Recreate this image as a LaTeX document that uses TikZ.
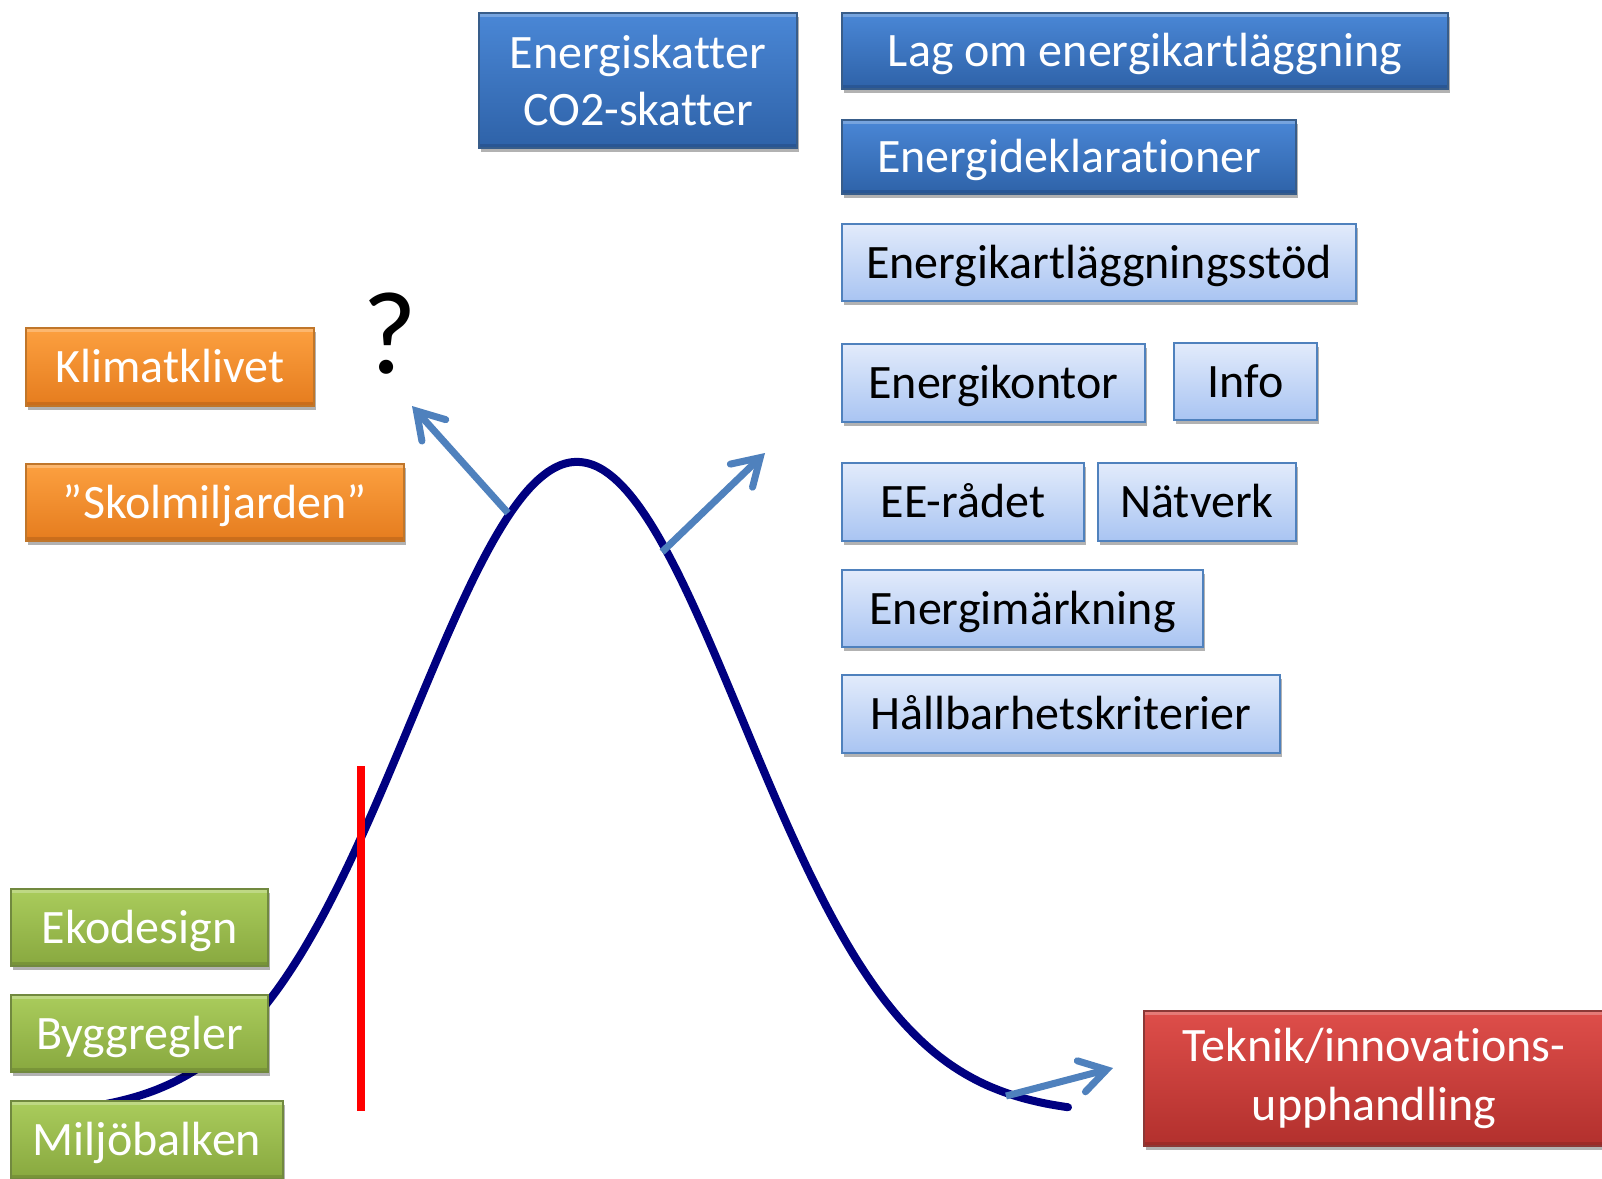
\documentclass[tikz,border=0pt]{standalone}
\usepackage{fontspec}
\setmainfont{Carlito}[Ligatures=NoCommon]
\usetikzlibrary{arrows.meta,shadows}
\definecolor{curvenavy}{HTML}{000080}
\definecolor{arrowblue}{HTML}{4F81BD}
\definecolor{dkTop}{HTML}{4A87D6}
\definecolor{dkBot}{HTML}{2E62A8}
\definecolor{dkEdge}{HTML}{385D8A}
\definecolor{ltTop}{HTML}{E2EBFB}
\definecolor{ltBot}{HTML}{A9C4F2}
\definecolor{ltEdge}{HTML}{4F81BD}
\definecolor{orTop}{HTML}{FCA040}
\definecolor{orBot}{HTML}{E57C1E}
\definecolor{orEdge}{HTML}{C0762A}
\definecolor{grTop}{HTML}{AACC5C}
\definecolor{grBot}{HTML}{88A83F}
\definecolor{grEdge}{HTML}{71893F}
\definecolor{rdTop}{HTML}{DE4E4A}
\definecolor{rdBot}{HTML}{B2302D}
\definecolor{rdEdge}{HTML}{8C3836}
\begin{document}
\begin{tikzpicture}[x=1pt,y=-1pt,
  box/.style={draw, line width=1.5pt, inner sep=0pt, align=center,
    font=\fontsize{48}{57}\selectfont,
    drop shadow={shadow xshift=1.5pt, shadow yshift=-4pt, opacity=0.3, fill=black}},
  oneline/.style={text height=31pt, text depth=0pt},
  bevel/.style={path picture={
    \fill[white, opacity=0.25] (path picture bounding box.north west) rectangle
      ([yshift=-4pt]path picture bounding box.north east);
    \fill[black, opacity=0.12] (path picture bounding box.south west) rectangle
      ([yshift=4pt]path picture bounding box.south east);}},
  darkbox/.style={box, bevel, top color=dkTop, bottom color=dkBot, draw=dkEdge, text=white},
  lightbox/.style={box, oneline, top color=ltTop, bottom color=ltBot, draw=ltEdge, text=black},
  orangebox/.style={box, oneline, bevel, top color=orTop, bottom color=orBot, draw=orEdge, text=white},
  greenbox/.style={box, oneline, bevel, top color=grTop, bottom color=grBot, draw=grEdge, text=white},
  redbox/.style={box, bevel, top color=rdTop, bottom color=rdBot, draw=rdEdge, text=white},
  bluearrow/.style={draw=arrowblue, line width=7pt,
    -{Straight Barb[length=26pt, width=32pt, line cap=round, line width=7pt]}},
]
\clip (0,0) rectangle (1602,1178);
\fill[white] (0,0) rectangle (1602,1178);

% bell curve
\draw[curvenavy, line width=8pt, line cap=round]
  plot[domain=107:1068, samples=160, smooth] (\x, {1115-653*exp(-0.5*((\x-577)/165)^2)});

% red marker line
\draw[red, line width=8pt] (361,766) coordinate (r1) -- (361,1111) coordinate (r2);

% arrows
\coordinate (a1s) at (508,513);
\coordinate (a1e) at (412,406);
\coordinate (a2s) at (662,552);
\coordinate (a2e) at (765,453);
\coordinate (a3s) at (1006,1096);
\coordinate (a3e) at (1113,1068);
\draw[bluearrow] (a1s) -- (a1e);
\draw[bluearrow] (a2s) -- (a2e);
\draw[bluearrow] (a3s) -- (a3e);

% question mark
\node[font=\fontsize{118}{120}\selectfont, inner sep=0pt] (q) at (390,334) {?};

% dark blue boxes
\node[darkbox, minimum width=318pt, minimum height=135pt] (ene) at (638,80.5) {Energiskatter\\CO2-skatter};
\node[darkbox, oneline, minimum width=606pt, minimum height=76pt] (lag) at (1145,51) {Lag om energikartläggning};
\node[darkbox, oneline, minimum width=454pt, minimum height=74pt] (dekl) at (1069,157) {Energideklarationer};

% light blue boxes
\node[lightbox, minimum width=514pt, minimum height=77pt] (stod) at (1099,262.5) {Energikartläggningsstöd};
\node[lightbox, minimum width=303pt, minimum height=78pt] (kontor) at (993.5,383) {Energikontor};
\node[lightbox, minimum width=143pt, minimum height=77pt] (info) at (1245.5,381.5) {Info};
\node[lightbox, minimum width=242pt, minimum height=78pt] (ee) at (963,502) {EE-rådet};
\node[lightbox, minimum width=198pt, minimum height=78pt] (natverk) at (1197,502) {Nätverk};
\node[lightbox, minimum width=361pt, minimum height=77pt] (mark) at (1022.5,608.5) {Energimärkning};
\node[lightbox, minimum width=438pt, minimum height=78pt] (hall) at (1061,714) {Hållbarhetskriterier};

% orange boxes
\node[orangebox, minimum width=288pt, minimum height=78pt] (klimat) at (170,367) {Klimatklivet};
\node[orangebox, minimum width=378pt, minimum height=77pt] (skol) at (215,502.5) {”Skolmiljarden”};

% green boxes
\node[greenbox, minimum width=257pt, minimum height=77pt] (eko) at (139.5,927.5) {Ekodesign};
\node[greenbox, minimum width=257pt, minimum height=77pt] (bygg) at (139.5,1033.5) {Byggregler};
\node[greenbox, minimum width=272pt, minimum height=78pt] (milj) at (147,1140) {Miljöbalken};

% red box
\node[redbox, font=\fontsize{48}{59}\selectfont, minimum width=460pt, minimum height=135pt] (tek) at (1374,1078.5) {Teknik/innovations-\\upphandling};
\end{tikzpicture}
\end{document}
